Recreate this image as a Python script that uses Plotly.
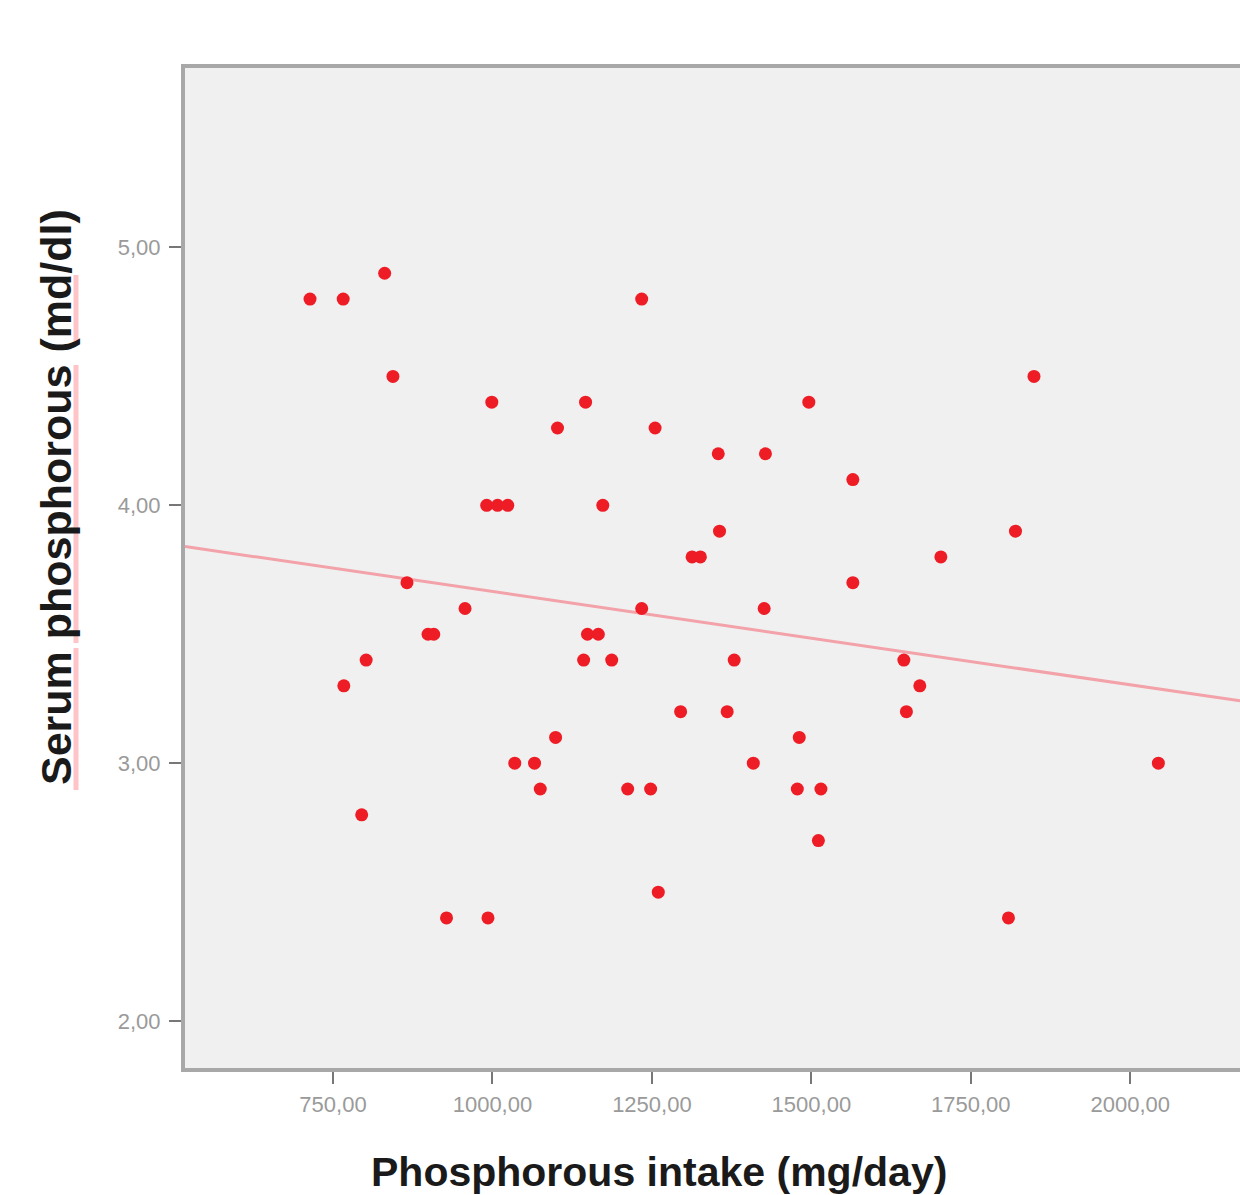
import numpy as np
import plotly.graph_objects as go

# Phosphorous intake (mg/day)
intake = [714, 766, 831, 844, 999, 1102, 1146, 1234, 1255, 1354, 1428, 1496, 1565, 1849,
          991, 1008, 1024, 1173, 1356, 1820, 1313, 1326, 1703, 866, 1565,
          957, 1234, 1426, 899, 908, 1149, 1166, 802, 1143, 1187, 1379, 1645,
          767, 1670, 1295, 1368, 1649, 1099, 1481, 1035, 1066, 1409, 2044,
          1075, 1212, 1248, 1478, 1515, 795, 1511, 1260, 928, 993, 1809]
# Serum phosphorous (md/dl)
serum = [4.8, 4.8, 4.9, 4.5, 4.4, 4.3, 4.4, 4.8, 4.3, 4.2, 4.2, 4.4, 4.1, 4.5,
         4.0, 4.0, 4.0, 4.0, 3.9, 3.9, 3.8, 3.8, 3.8, 3.7, 3.7,
         3.6, 3.6, 3.6, 3.5, 3.5, 3.5, 3.5, 3.4, 3.4, 3.4, 3.4, 3.4,
         3.3, 3.3, 3.2, 3.2, 3.2, 3.1, 3.1, 3.0, 3.0, 3.0, 3.0,
         2.9, 2.9, 2.9, 2.9, 2.9, 2.8, 2.7, 2.5, 2.4, 2.4, 2.4]

x_tickvals = [750, 1000, 1250, 1500, 1750, 2000]
x_ticktext = ["750,00", "1000,00", "1250,00", "1500,00", "1750,00", "2000,00"]
y_tickvals = [2, 3, 4, 5]
y_ticktext = ["2,00", "3,00", "4,00", "5,00"]

x_range = [518, 2172]
y_range = [1.818, 5.696]

slope, intercept = np.polyfit(intake, serum, 1)
fit_x = np.array(x_range)
fit_y = intercept + slope * fit_x

W, H = 1240, 1195
ML, MR, MT, MB = 185, 0, 68, 127
PW, PH = W - ML - MR, H - MT - MB


def px_x(px):
    return (px - ML) / PW


def px_y(py):
    return (H - MB - py) / PH


fig = go.Figure()
fig.add_trace(go.Scatter(x=fit_x, y=fit_y, mode="lines",
                         line=dict(color="#f2a2a8", width=3), hoverinfo="skip"))
fig.add_trace(go.Scatter(x=intake, y=serum, mode="markers",
                         marker=dict(color="#ee1c25", size=13, line=dict(width=0))))

axis_common = dict(showline=True, linecolor="#a8a8a8", linewidth=4,
                   ticks="outside", ticklen=12, tickwidth=2, tickcolor="#777777",
                   showgrid=False, zeroline=False,
                   tickfont=dict(family="Liberation Sans, Arial", size=22, color="#9a9a9a"))

fig.update_xaxes(range=x_range, tickvals=x_tickvals, ticktext=x_ticktext,
                 mirror=True, ticklabelstandoff=2, **axis_common)
fig.update_yaxes(range=y_range, tickvals=y_tickvals, ticktext=y_ticktext,
                 mirror=False, ticklabelstandoff=4, **axis_common)

fig.add_annotation(text="<b>Phosphorous intake (mg/day)</b>", xref="paper", yref="paper",
                   x=px_x(659), y=px_y(1147), xanchor="center", yanchor="top",
                   showarrow=False,
                   font=dict(family="Liberation Sans, Arial", size=41, color="#1a1a1a"))
fig.add_annotation(text="<b>Serum phosphorous (md/dl)</b>", xref="paper", yref="paper",
                   x=px_x(56), y=px_y(497), xanchor="center",
                   yanchor="middle", textangle=-90, showarrow=False,
                   font=dict(family="Liberation Sans, Arial", size=43, color="#1a1a1a"))

# faint pink spell-check underlines along the y title
for y0, y1 in [(275, 342), (365, 643), (648, 790)]:
    fig.add_shape(type="line", xref="paper", yref="paper",
                  x0=px_x(76), x1=px_x(76), y0=px_y(y0), y1=px_y(y1),
                  line=dict(color="#ffc4c8", width=5), layer="above")

fig.update_layout(width=W, height=H,
                  margin=dict(l=ML, r=MR, t=MT, b=MB),
                  plot_bgcolor="#f0f0f0", paper_bgcolor="white",
                  showlegend=False)

fig.write_html("out.html", config={"displayModeBar": False},
               post_script="document.body.style.margin='0';document.body.style.overflow='hidden';")
